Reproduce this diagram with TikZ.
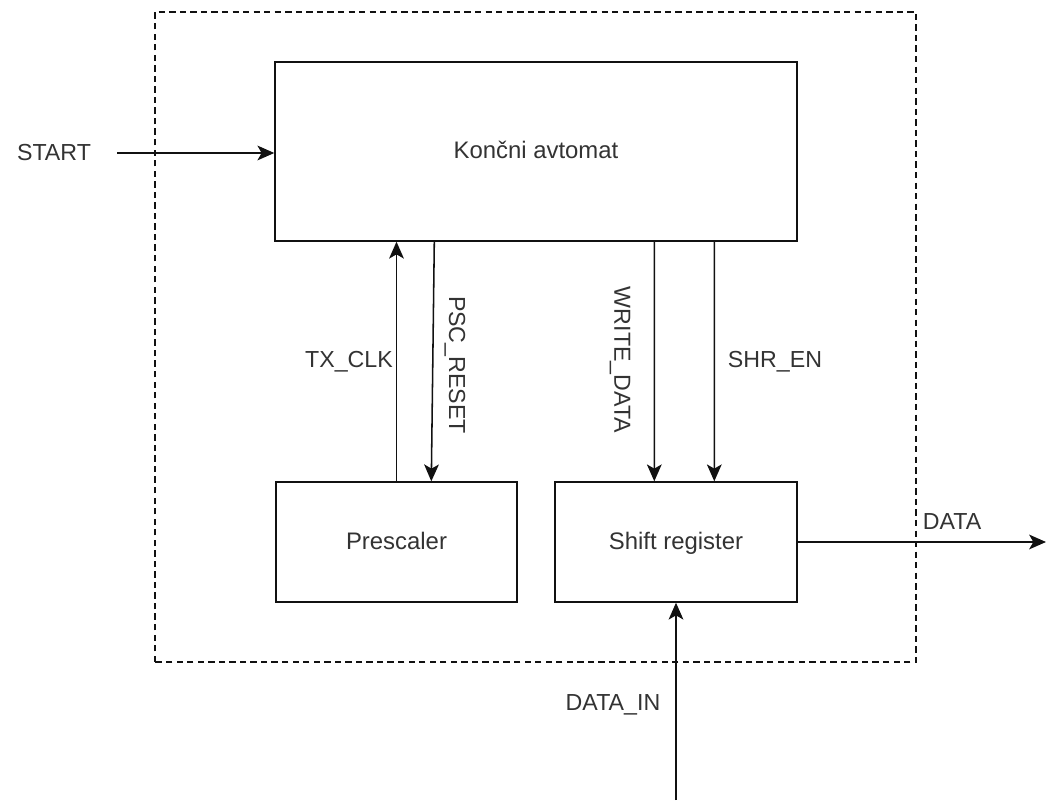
\documentclass[tikz,border=0pt]{standalone}
\usepackage{fontspec}
\setmainfont{Liberation Sans}
\usepackage{tikz}
\usetikzlibrary{arrows.meta, positioning}

\definecolor{linegray}{HTML}{111111}
\definecolor{textgray}{HTML}{333333}

\begin{document}
\begin{tikzpicture}[
    block/.style={
        draw=linegray, rectangle, line width=1pt,
        minimum height=3cm, font=\fontsize{17}{20}\selectfont, text=textgray,
        text height=1.05em, text depth=0pt
    },
    msg/.style={-{Stealth[length=12pt, width=10.5pt, inset=3pt]}, line width=1.1pt, draw=linegray},
    sig/.style={font=\fontsize{16.5}{19}\selectfont, text=textgray},
    frame/.style={draw=linegray, line width=1pt, dash pattern=on 4.5pt off 3pt}
]

\useasboundingbox (0,0) rectangle (26.15,20);

\draw[frame] (3.875,3.45) rectangle (22.9,19.7);

\node[block, minimum width=13.05cm, minimum height=4.475cm] (fsm) at (13.4,16.2125) {Končni avtomat};
\node[block, minimum width=6.025cm] (psc) at (9.9125,6.45) {Prescaler};
\node[block, minimum width=6.05cm]  (shr) at (16.9,6.45)   {Shift register};

\coordinate (startin) at (2.925,16.175);
\coordinate (dataout) at (26.15,6.45);
\coordinate (datain)  at (16.9,0);

\node[sig] (startlbl) at (1.35,16.175) {START};
\node[sig] (txlbl)    at (8.725,10.95) {TX\_CLK};
\node[sig, rotate=-90] (psclbl) at (11.375,10.875) {PSC\_RESET};
\node[sig, rotate=-90] (wrlbl)  at (15.5,11.0)    {WRITE\_DATA};
\node[sig] (enlbl)    at (19.375,10.95) {SHR\_EN};
\node[sig] (datalbl)  at (23.8,6.95)    {DATA};
\node[sig] (inlbl)    at (15.325,2.375) {DATA\_IN};

\draw[msg] (startin) -- (startin -| fsm.west);
\draw[msg] (psc.north) -- (psc.north |- fsm.south);
\draw[msg] ([xshift=4.0cm]fsm.south west) -- ([xshift=3.9cm]psc.north west);
\draw[msg] ([xshift=9.5cm]fsm.south west) -- ([xshift=2.5cm]shr.north west);
\draw[msg] ([xshift=11cm]fsm.south west) -- ([xshift=4cm]shr.north west);
\draw[msg] (shr.east) -- (dataout);
\draw[msg] (datain) -- (shr.south);

\end{tikzpicture}
\end{document}
